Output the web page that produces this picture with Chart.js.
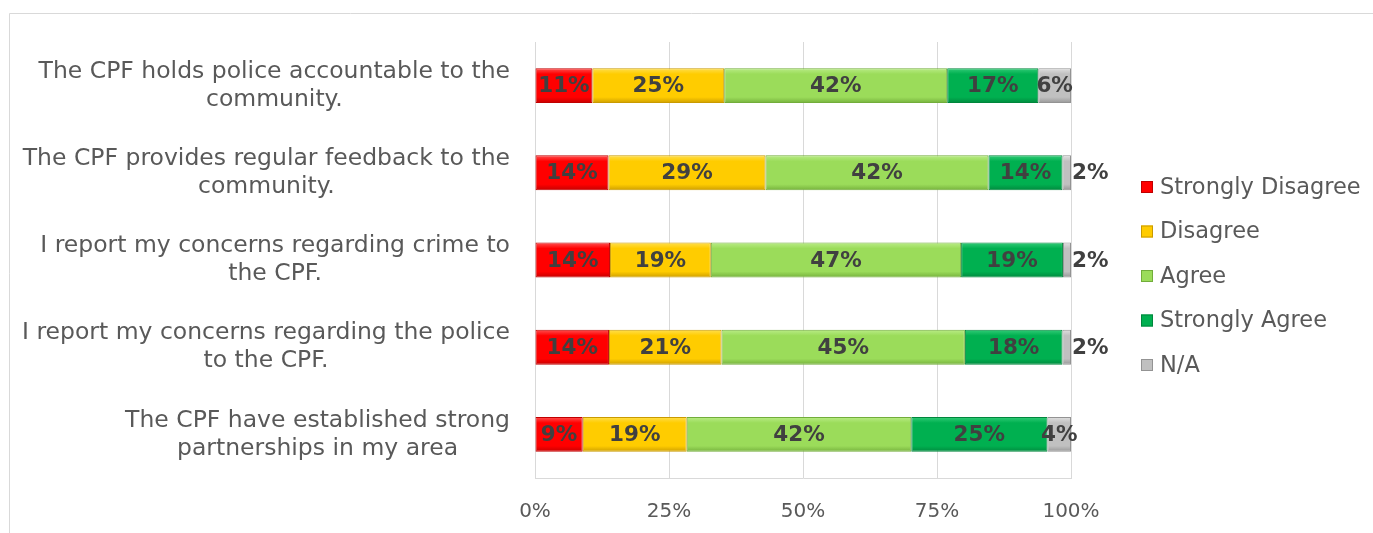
<!DOCTYPE html>
<html>
<head>
<meta charset="utf-8">
<script src="https://cdn.jsdelivr.net/npm/chart.js@4.4.1/dist/chart.umd.min.js"></script>
<style>
  html, body { margin: 0; padding: 0; background: #fff; }
  #wrap { width: 1373px; height: 533px; position: relative; }
</style>
</head>
<body>
<div id="wrap"><canvas id="grafico"></canvas></div>
<script>
const categories = [
  ['The CPF holds police accountable to the', 'community.'],
  ['The CPF provides regular feedback to the', 'community.'],
  ['I report my concerns regarding crime to', 'the CPF.'],
  ['I report my concerns regarding the police', 'to the CPF.'],
  ['The CPF have established strong', 'partnerships in my area']
];
const seriesNames = ['Strongly Disagree', 'Disagree', 'Agree', 'Strongly Agree', 'N/A'];
const stronglyDisagree = [10.7, 13.7, 14.0, 13.8, 8.9];
const disagree = [24.6, 29.3, 18.8, 21.0, 19.4];
const agree = [41.6, 41.6, 46.7, 45.4, 41.9];
const stronglyAgree = [17.0, 13.8, 19.0, 18.2, 25.4];
const notApplicable = [6.1, 1.6, 1.5, 1.6, 4.4];
const xTicks = [0, 25, 50, 75, 100];

const FONT = '"DejaVu Sans", sans-serif';
const TEXT = '#595959';

// base, light, dark
const colours = [
  ['#ff0000', '#ff5a5a', '#c00000'],
  ['#ffcc00', '#ffe157', '#c99a00'],
  ['#9bdc5a', '#bdee8c', '#72ad3a'],
  ['#00b050', '#38cf7c', '#00863c'],
  ['#c0c0c0', '#e4e4e4', '#939393']
];

function bevel(i) {
  return function(ctx) {
    const chart = ctx.chart;
    const y = chart.scales.y;
    if (!y || ctx.dataIndex === undefined) return colours[i][0];
    const cy = y.getPixelForValue(ctx.dataIndex);
    if (!isFinite(cy)) return colours[i][0];
    const h = 18;
    const g = chart.ctx.createLinearGradient(0, cy - h, 0, cy + h);
    g.addColorStop(0, colours[i][1]);
    g.addColorStop(0.18, colours[i][0]);
    g.addColorStop(0.82, colours[i][0]);
    g.addColorStop(1, colours[i][2]);
    return g;
  };
}

const frame = {
  id: 'frame',
  beforeDraw(chart) {
    const c = chart.ctx;
    c.save();
    c.fillStyle = '#fff';
    c.fillRect(0, 0, chart.width, chart.height);
    c.strokeStyle = '#d9d9d9';
    c.lineWidth = 1;
    c.beginPath();
    c.moveTo(9.5, chart.height);
    c.lineTo(9.5, 13.5);
    c.lineTo(chart.width, 13.5);
    c.stroke();
    c.restore();
  }
};

const categoryLabels = {
  id: 'categoryLabels',
  afterDraw(chart) {
    const c = chart.ctx;
    const y = chart.scales.y;
    const right = chart.chartArea.left - 25;
    c.save();
    c.font = '23.5px ' + FONT;
    c.fillStyle = TEXT;
    c.textAlign = 'center';
    c.textBaseline = 'middle';
    chart.data.labels.forEach((lines, i) => {
      const cy = y.getPixelForValue(i);
      const w = Math.max(...lines.map(l => c.measureText(l).width));
      lines.forEach((l, j) => {
        c.fillText(l, right - w / 2, cy + (j - (lines.length - 1) / 2) * 28);
      });
    });
    c.restore();
  }
};

const valueLabels = {
  id: 'valueLabels',
  afterDatasetsDraw(chart) {
    const c = chart.ctx;
    c.save();
    c.font = 'bold 21.5px ' + FONT;
    c.fillStyle = '#404040';
    c.textBaseline = 'middle';
    chart.data.datasets.forEach((ds, di) => {
      chart.getDatasetMeta(di).data.forEach((bar, i) => {
        const v = ds.data[i];
        const txt = Math.round(v) + '%';
        if (v < 3) {
          c.textAlign = 'left';
          c.fillText(txt, bar.x + 1, bar.y + 1);
        } else {
          c.textAlign = 'center';
          c.fillText(txt, (bar.x + bar.base) / 2, bar.y + 1);
        }
      });
    });
    c.restore();
  }
};

const sideLegend = {
  id: 'sideLegend',
  afterDraw(chart) {
    const c = chart.ctx;
    const x = chart.chartArea.right + 70;
    const y0 = chart.chartArea.top + 145;
    c.save();
    c.font = '22.5px ' + FONT;
    c.textAlign = 'left';
    c.textBaseline = 'middle';
    chart.data.datasets.forEach((ds, i) => {
      const cy = y0 + i * 44.5;
      c.fillStyle = colours[i][0];
      c.fillRect(x, cy - 6, 12, 12);
      c.strokeStyle = colours[i][2];
      c.lineWidth = 1;
      c.strokeRect(x + 0.5, cy - 5.5, 11, 11);
      c.fillStyle = TEXT;
      c.fillText(ds.label, x + 19, cy + 1);
    });
    c.restore();
  }
};

const values = [stronglyDisagree, disagree, agree, stronglyAgree, notApplicable];

new Chart(document.getElementById('grafico'), {
  type: 'bar',
  data: {
    labels: categories,
    datasets: values.map((d, i) => ({
      label: seriesNames[i],
      data: d,
      backgroundColor: bevel(i),
      borderColor: colours[i][2],
      borderWidth: 1,
      borderSkipped: false,
      barPercentage: 0.4,
      categoryPercentage: 1
    }))
  },
  options: {
    indexAxis: 'y',
    responsive: true,
    maintainAspectRatio: false,
    animation: false,
    layout: {
      padding: { left: 535, right: 302, top: 42, bottom: 0 }
    },
    plugins: {
      legend: { display: false },
      tooltip: { enabled: false }
    },
    scales: {
      x: {
        stacked: true,
        min: 0,
        max: 100,
        afterBuildTicks: (s) => { s.ticks = xTicks.map(v => ({ value: v })); },
        afterFit: (s) => { s.height = 55; },
        grid: { color: '#d9d9d9', drawTicks: false },
        border: { color: '#d9d9d9' },
        ticks: {
          padding: 22,
          color: TEXT,
          font: { family: FONT, size: 20 },
          callback: (v) => v + '%'
        }
      },
      y: {
        stacked: true,
        afterFit: (s) => { s.width = 0; },
        grid: { display: false },
        border: { display: false },
        ticks: { display: false }
      }
    }
  },
  plugins: [frame, categoryLabels, valueLabels, sideLegend]
});
</script>
</body>
</html>
